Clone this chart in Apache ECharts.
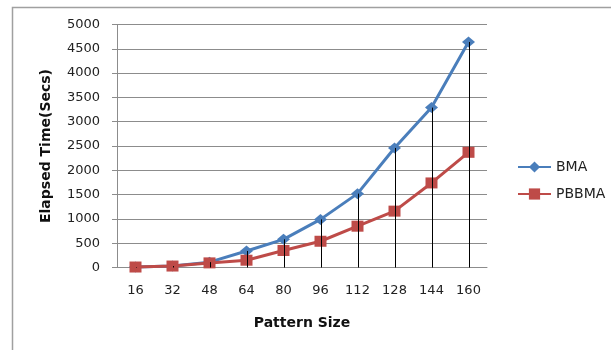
<!DOCTYPE html>
<html>
<head>
<meta charset="utf-8">
<title>Elapsed Time vs Pattern Size</title>
<script src="https://cdn.jsdelivr.net/npm/echarts@6/dist/echarts.min.js"></script>
<style>
  html, body { margin: 0; padding: 0; background: #ffffff; }
  #chart { width: 611px; height: 350px; }
</style>
</head>
<body>
<div id="chart"></div>
<script>
// Pattern sizes on the x axis
const patternSizes = ['16', '32', '48', '64', '80', '96', '112', '128', '144', '160'];
// Elapsed time in seconds for each algorithm
const bmaTimes   = [10, 30, 110, 340, 580, 990, 1520, 2460, 3290, 4640];
const pbbmaTimes = [10, 30, 95, 150, 350, 540, 850, 1160, 1740, 2370];
// Value axis ticks
const yTicks = [0, 500, 1000, 1500, 2000, 2500, 3000, 3500, 4000, 4500, 5000];

const font = 'DejaVu Sans, Liberation Sans, Arial, sans-serif';
const gridGray = '#8c8c8c';

// Drop lines run from the axis up to the higher of the two series
const dropTops = patternSizes.map((_, i) => [i, Math.max(bmaTimes[i], pbbmaTimes[i])]);

const chart = echarts.init(document.getElementById('chart'), null, { renderer: 'canvas' });

chart.setOption({
  backgroundColor: '#ffffff',
  animation: false,
  graphic: [{
    type: 'rect',
    shape: { x: 12.5, y: 7.5, width: 700, height: 400 },
    style: { fill: 'none', stroke: '#a0a0a0', lineWidth: 1.5 },
    silent: true
  }],
  grid: { left: 117, right: 124, top: 24.5, bottom: 82.5 },
  legend: {
    orient: 'vertical',
    left: 512,
    top: 155,
    itemWidth: 33,
    itemHeight: 14,
    itemGap: 13,
    data: ['BMA', 'PBBMA'],
    textStyle: { fontFamily: font, fontSize: 14, color: '#222', lineHeight: 14 }
  },
  xAxis: {
    type: 'category',
    data: patternSizes,
    boundaryGap: true,
    name: 'Pattern Size',
    nameLocation: 'middle',
    nameGap: 49,
    nameTextStyle: { fontFamily: font, fontSize: 14, fontWeight: 'bold', color: '#111' },
    axisLine: { lineStyle: { color: gridGray, width: 1 } },
    axisTick: { show: false },
    axisLabel: { margin: 17, fontFamily: font, fontSize: 13, color: '#222' }
  },
  yAxis: {
    type: 'value',
    min: yTicks[0],
    max: yTicks[yTicks.length - 1],
    interval: yTicks[1] - yTicks[0],
    name: 'Elapsed Time(Secs)',
    nameLocation: 'middle',
    nameGap: 64,
    nameTextStyle: { fontFamily: font, fontSize: 14, fontWeight: 'bold', color: '#111' },
    axisLine: { show: true, lineStyle: { color: gridGray, width: 1 } },
    axisTick: { show: true, length: 5, lineStyle: { color: gridGray } },
    splitLine: { lineStyle: { color: gridGray, width: 1 } },
    axisLabel: {
      margin: 17, fontFamily: font, fontSize: 13, color: '#222',
      formatter: function (v) { return String(v); }
    }
  },
  series: [
    {
      name: 'BMA',
      type: 'line',
      data: bmaTimes,
      symbol: 'diamond',
      symbolSize: [13, 11],
      lineStyle: { color: '#4a7ebb', width: 3 },
      itemStyle: { color: '#4a7ebb' },
      z: 2
    },
    {
      name: 'PBBMA',
      type: 'line',
      data: pbbmaTimes,
      symbol: 'rect',
      symbolSize: [12, 11],
      lineStyle: { color: '#be4b48', width: 3 },
      itemStyle: { color: '#be4b48' },
      z: 3
    },
    {
      name: 'drop',
      type: 'custom',
      data: dropTops,
      encode: { x: 0, y: 1 },
      z: 5,
      silent: true,
      renderItem: function (params, api) {
        const top = api.coord([api.value(0), api.value(1)]);
        const base = api.coord([api.value(0), 0]);
        return {
          type: 'line',
          shape: { x1: Math.round(top[0]) + 0.5, y1: top[1], x2: Math.round(base[0]) + 0.5, y2: base[1] },
          style: { stroke: '#000000', lineWidth: 1 }
        };
      }
    }
  ]
});
</script>
</body>
</html>
